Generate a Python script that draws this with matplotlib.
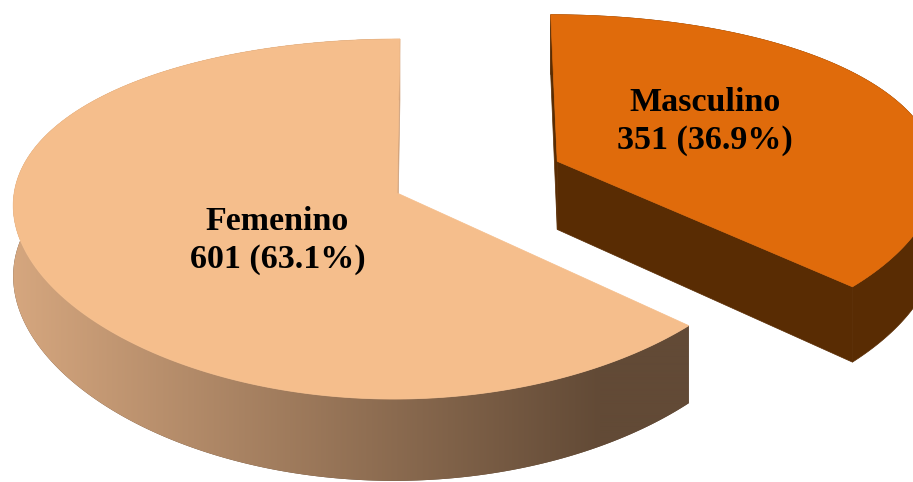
import numpy as np
import matplotlib
matplotlib.use("Agg")
import matplotlib.pyplot as plt
from matplotlib.patches import Polygon

# --- data -------------------------------------------------------------
categories = ["Femenino", "Masculino"]
counts = [601, 351]
percents = [63.1, 36.9]

# --- style ------------------------------------------------------------
top_colors = ["#F5BE8C", "#E06B0B"]
side_colors = [None, "#592C03"]          # None -> shaded gradient
cut_colors = ["#CFA079", "#592C03"]
grad_left = np.array([214, 167, 127]) / 255.0
grad_right = np.array([98, 74, 54]) / 255.0
explode = [0.0, 0.46]
start_angle = 90.0
label_r = [0.40, 0.47]
label_dtheta = [16.6, 7.9]

W, H = 913, 482

# --- simple perspective projection of the tilted pie ---------------------
CX, CY = 445.0, 193.0
KX, DX, XC = 383.0, 16.0, 0.125
KY, DY = 1220.0, 6.92
THICK = 484.0


def proj(X, Y, bottom=False):
    X = np.asarray(X, dtype=float)
    Y = np.asarray(Y, dtype=float)
    xs = CX + KX * DX * (X - XC) / (DX + Y)
    ys = CY - KY * Y / (DY + Y)
    if bottom:
        ys = ys + THICK / (DY + Y)
    return np.column_stack([np.atleast_1d(xs), np.atleast_1d(ys)])


def signed_area(p):
    x, y = p[:, 0], p[:, 1]
    return np.sum(x * np.roll(y, -1) - np.roll(x, -1) * y)


fig = plt.figure(figsize=(W / 100, H / 100), dpi=100)
ax = fig.add_axes([0, 0, 1, 1])

total = float(sum(counts))
spans = [360.0 * c / total for c in counts]
starts = [start_angle + sum(spans[:i]) for i in range(len(counts))]
mids = [s + sp / 2 for s, sp in zip(starts, spans)]

offsets = []
for m, e in zip(mids, explode):
    offsets.append((e * np.cos(np.radians(m)), e * np.sin(np.radians(m))))

# back slices first
order = sorted(range(len(counts)), key=lambda i: -offsets[i][1])
z = 1
for i in order:
    ox, oy = offsets[i]
    t = np.radians(np.linspace(starts[i], starts[i] + spans[i], 300))
    X = ox + np.cos(t)
    Y = oy + np.sin(t)
    top = proj(X, Y)
    bot = proj(X, Y, bottom=True)

    # outer wall
    side = np.vstack([top, bot[::-1]])
    if side_colors[i] is None:
        patch = Polygon(side, closed=True, facecolor=grad_right, lw=0, zorder=z)
        ax.add_patch(patch)
        xs = np.arange(W)
        f = np.clip((xs - 10) / (600 - 10), 0, 1)[:, None]
        row = grad_left * (1 - f) + grad_right * f
        img = np.repeat(row[None, :, :], 2, axis=0)
        im = ax.imshow(img, extent=(0, W, H, 0), aspect="auto",
                       interpolation="bilinear", zorder=z + 0.5)
        im.set_clip_path(patch)
    else:
        ax.add_patch(Polygon(side, closed=True, facecolor=side_colors[i],
                             edgecolor=side_colors[i], lw=0.5, zorder=z))
    z += 1

    # radial cut faces (only the ones facing the viewer)
    v_top = proj(ox, oy)[0]
    v_bot = proj(ox, oy, bottom=True)[0]
    for k, sign in ((0, 1), (-1, -1)):
        quad = np.array([v_top, top[k], bot[k], v_bot])
        if sign * signed_area(quad) > 0:
            ax.add_patch(Polygon(quad, closed=True, facecolor=cut_colors[i],
                                 edgecolor=cut_colors[i], lw=0.5, zorder=z))
    z += 1

    # top face
    face = np.vstack([v_top, top])
    ax.add_patch(Polygon(face, closed=True, facecolor=top_colors[i],
                         edgecolor=top_colors[i], lw=0.5, zorder=z))
    z += 1

    # label
    la = np.radians(mids[i] + label_dtheta[i])
    lp = proj(ox + label_r[i] * np.cos(la), oy + label_r[i] * np.sin(la))[0]
    ax.text(lp[0], lp[1], f"{categories[i]}\n{counts[i]} ({percents[i]:.1f}%)",
            ha="center", va="center", fontsize=24.5, fontweight="bold",
            family="Liberation Serif", color="black", linespacing=1.28,
            zorder=100)

ax.set_xlim(0, W)
ax.set_ylim(H, 0)
ax.axis("off")
fig.savefig("out.png", dpi=100, facecolor="white")
